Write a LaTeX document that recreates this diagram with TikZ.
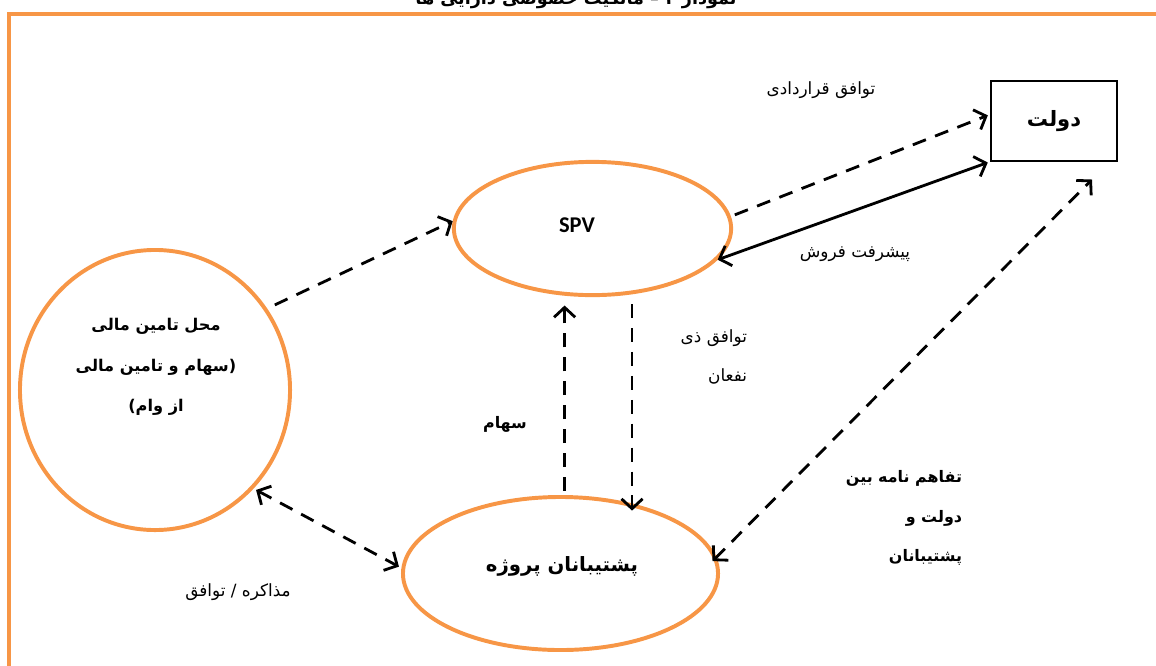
\documentclass[tikz,border=0pt]{standalone}
\usepackage{fontspec}
\usetikzlibrary{arrows.meta,shapes.geometric}
\TeXXeTstate=1
\newfontfamily\farsi[Script=Arabic]{DejaVu Sans}
\newfontfamily\latinsans{Carlito}
\newcommand{\fatext}[1]{{\farsi\beginR #1\endR}}
\definecolor{frameorange}{HTML}{F79646}
\tikzset{
  bubble/.style={ellipse, draw=frameorange, line width=2.8pt, inner sep=0pt},
  dashline/.style={dash pattern=on 10pt off 7pt, line width=2pt},
  label/.style={font=\fontsize{12}{28}\selectfont},
  boldlabel/.style={font=\fontsize{11.3}{28}\selectfont\bfseries},
}
\begin{document}
\begin{tikzpicture}[x=0.025cm, y=-0.025cm, >={Straight Barb[length=7pt,width=15pt]}]
                \useasboundingbox (0,0) rectangle (1156,665);
                % frame and cut title
                \draw[frameorange, line width=3.5pt] (9,720) -- (9,14) -- (1200,14);
                \node[font=\fontsize{12.5}{16}\selectfont\bfseries, anchor=base] (title) at (576,4)
                    {\fatext{نمودار ۲ – مالکیت خصوصی دارایی ها}};
                % nodes
                \node[draw, line width=0.8pt, minimum width=3.15cm, minimum height=2cm,
                      font=\fontsize{15}{16}\selectfont\bfseries] (gov) at (1054,121) {\fatext{دولت}};
                \node[bubble, minimum width=6.93cm, minimum height=3.33cm] (spv) at (592.5,228.5) {};
                \node[font=\fontsize{16}{18}\selectfont\bfseries\latinsans] (spvtext) at (577,225) {SPV};
                \node[bubble, minimum width=6.75cm, minimum height=7cm] (fin) at (155,390) {};
                \node[align=center, font=\fontsize{11.5}{29}\selectfont\bfseries] (fintext) at (156,367)
                    {\fatext{محل تامین مالی}\\\fatext{(سهام و تامین مالی}\\\fatext{از  وام)}};
                \node[bubble, minimum width=7.875cm, minimum height=3.825cm] (proj) at (560.5,573.5) {};
                \node[font=\fontsize{14}{16}\selectfont\bfseries] (projtext) at (562,566) {\fatext{پشتیبانان پروژه}};
                % connectors
                \draw[->, dashline, shorten <=6pt] (fin.36) -- (spv.177);
                \draw[->, dashline, shorten <=3pt, shorten >=2pt] (spv.5) -- (gov.174);
                \draw[<->, line width=2pt, shorten >=2pt] (spv.-14) -- (gov.south west);
                \draw[->, dashline, shorten <=7pt, shorten >=-5pt] (spv.-59) -- (spv.-59 |- proj.44);
                \draw[->, dashline, shorten <=3pt, shorten >=7pt] (proj.87) -- (proj.87 |- spv.-113);
                \draw[<->, dashline, shorten <=2pt, shorten >=2pt] (fin.-45) -- (proj.178);
                \draw[<->, dashline, shorten <=-4pt, shorten >=18pt] (proj.6) -- (gov.-36);
                % labels
                \node[label] (contract) at (821,90) {\fatext{توافق  قراردادی}};
                \node[label] (sales) at (855,254) {\fatext{پیشرفت فروش}};
                \node[label, align=right, anchor=east] (stake) at (752,357) {\fatext{توافق ذی}\\\fatext{نفعان}};
                \node[boldlabel] (shares) at (505,424) {\fatext{سهام}};
                \node[boldlabel, align=right, anchor=east] (mou) at (967,518)
                    {\fatext{تفاهم نامه بین}\\\fatext{دولت و}\\\fatext{پشتیبانان}};
                \node[label] (talks) at (238,592) {\fatext{مذاکره / توافق}};
\end{tikzpicture}
\end{document}
